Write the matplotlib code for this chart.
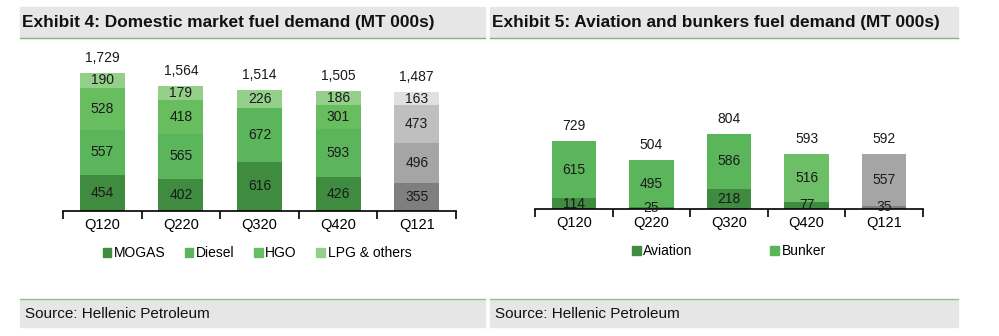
import numpy as np
import matplotlib
matplotlib.use("Agg")
import matplotlib.pyplot as plt
from matplotlib.patches import Rectangle, Patch

plt.rcParams['font.family'] = ['Liberation Sans', 'DejaVu Sans']

# datos del grafico de la izquierda (Exhibit 4)
trimestres = ["Q120", "Q220", "Q320", "Q420", "Q121"]
mogas = [454, 402, 616, 426, 355]
diesel = [557, 565, 672, 593, 496]
hgo = [528, 418, 0, 301, 473]
lpg = [190, 179, 226, 186, 163]
total_domestico = ["1,729", "1,564", "1,514", "1,505", "1,487"]

# datos del grafico de la derecha (Exhibit 5)
aviacion = [114, 25, 218, 77, 35]
bunker = [615, 495, 586, 516, 557]
total_aviacion = ["729", "504", "804", "593", "592"]

W, H = 999, 336
fig = plt.figure(figsize=(W / 100, H / 100), dpi=100)


def caja(x0, y0, x1, y1):
    # pasa pixeles a coordenadas de figura
    return [x0 / W, 1 - y1 / H, (x1 - x0) / W, (y1 - y0) / H]


# cabeceras y pies grises
for (x0, x1, titulo) in [(20, 485, "Exhibit 4: Domestic market fuel demand (MT 000s)"),
                         (490, 958, "Exhibit 5: Aviation and bunkers fuel demand (MT 000s)")]:
    fig.patches.append(Rectangle((x0 / W, 1 - 37 / H), (x1 - x0) / W, 30 / H,
                                 transform=fig.transFigure, color="#e6e6e6", zorder=0))
    fig.lines.append(plt.Line2D([x0 / W, x1 / W], [1 - 37.5 / H, 1 - 37.5 / H],
                                transform=fig.transFigure, color="#7fb77f", lw=1))
    fig.text((x0 + 2) / W, 1 - 22 / H, titulo, fontsize=12.4, fontweight="bold",
             va="center", color="#111111")
    fig.patches.append(Rectangle((x0 / W, 1 - 327 / H), (x1 - x0) / W, 27 / H,
                                 transform=fig.transFigure, color="#e6e6e6", zorder=0))
    fig.lines.append(plt.Line2D([x0 / W, x1 / W], [1 - 299 / H, 1 - 299 / H],
                                transform=fig.transFigure, color="#8fbf8f", lw=1))
    fig.text((x0 + 5) / W, 1 - 314 / H, "Source: Hellenic Petroleum", fontsize=11,
             va="center", color="#111111")

verdes4 = ["#3f8b3f", "#5bb55b", "#68bd5f", "#95d08b"]
grises4 = ["#7f7f7f", "#a5a5a5", "#bfbfbf", "#e0e0e0"]


def preparar_eje(ax):
    for s in ["top", "left", "right"]:
        ax.spines[s].set_visible(False)
    ax.spines["bottom"].set_linewidth(1.2)
    ax.set_yticks([])
    ax.set_xlim(-0.5, 4.5)
    ax.set_xticks(range(5))
    ax.set_xticklabels(trimestres, fontsize=10.5)
    ax.tick_params(axis="x", which="major", length=0, pad=5)
    ax.set_xticks(np.arange(-0.5, 5, 1), minor=True)
    ax.tick_params(axis="x", which="minor", length=6, width=1.2, direction="out")
    ax.patch.set_visible(False)


# ---- Exhibit 4 ----
ax1 = fig.add_axes(caja(63, 40, 456, 211))
ax1.set_ylim(0, 171 / 0.08)
x = np.arange(5)
base = np.zeros(5)
for j, serie in enumerate([mogas, diesel, hgo, lpg]):
    vals = np.array(serie)
    colores = [verdes4[j]] * 4 + [grises4[j]]
    ax1.bar(x, vals, 0.57, bottom=base, color=colores, linewidth=0)
    for i in range(5):
        if vals[i] > 0:
            ax1.text(x[i], base[i] + vals[i] / 2, str(vals[i]), ha="center", va="center",
                     fontsize=10, color="#1a1a1a")
    base += vals
for i in range(5):
    ax1.annotate(total_domestico[i], (x[i], base[i]), xytext=(0, 15), textcoords="offset pixels",
                 ha="center", va="center", fontsize=10, color="#1a1a1a")
preparar_eje(ax1)
ax1.legend(handles=[Patch(color=c) for c in verdes4], labels=["MOGAS", "Diesel", "HGO", "LPG & others"],
           ncol=4, loc="center", bbox_to_anchor=(257 / W, 1 - 253 / H), bbox_transform=fig.transFigure,
           frameon=False, fontsize=10, handlelength=0.6, handleheight=0.6, handletextpad=0.2,
           columnspacing=1.4)

# ---- Exhibit 5 ----
ax2 = fig.add_axes(caja(535, 40, 923, 209))
ax2.set_ylim(0, 169 / 0.0933)
verdes2 = ["#3f8b3f", "#5bb55b"]
grises2 = ["#7f7f7f", "#a5a5a5"]
base = np.zeros(5)
for j, serie in enumerate([aviacion, bunker]):
    vals = np.array(serie)
    colores = [verdes2[j]] * 3 + ["#6cbf66" if j == 1 else verdes2[j]] + [grises2[j]]
    ax2.bar(x, vals, 0.57, bottom=base, color=colores, linewidth=0)
    for i in range(5):
        ax2.text(x[i], base[i] + vals[i] / 2, str(vals[i]), ha="center", va="center",
                 fontsize=10, color="#1a1a1a")
    base += vals
for i in range(5):
    ax2.annotate(total_aviacion[i], (x[i], base[i]), xytext=(0, 15), textcoords="offset pixels",
                 ha="center", va="center", fontsize=10, color="#1a1a1a")
preparar_eje(ax2)
ax2.legend(handles=[Patch(color=c) for c in verdes2], labels=["Aviation", "Bunker"],
           ncol=2, loc="center", bbox_to_anchor=(729 / W, 1 - 251 / H), bbox_transform=fig.transFigure,
           frameon=False, fontsize=10, handlelength=0.6, handleheight=0.6, handletextpad=0.2,
           columnspacing=5.6)

fig.savefig("out.png", dpi=100)
